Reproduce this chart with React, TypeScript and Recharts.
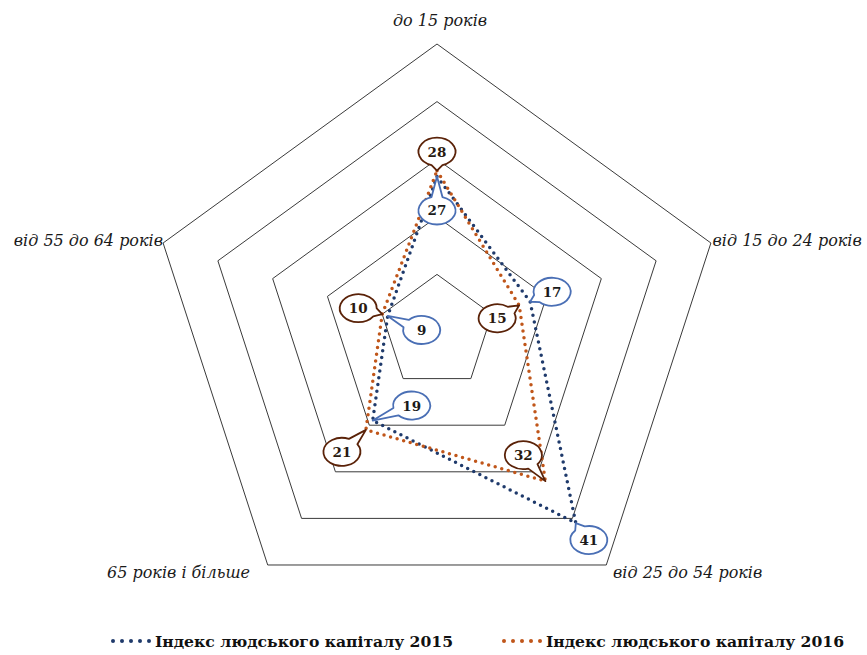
import React from 'react';
import { RadarChart, Radar, PolarGrid, PolarAngleAxis, PolarRadiusAxis, Legend } from 'recharts';

const categories = [
  'до 15 років',
  'від 15 до 24 років',
  'від 25 до 54 років',
  '65 років і більше',
  'від 55 до 64 років',
];
const index2015 = [27, 17, 41, 19, 9];
const index2016 = [28, 15, 32, 21, 10];
const seriesNames = ['Індекс людського капіталу 2015', 'Індекс людського капіталу 2016'];
const radiusTicks = [0, 10, 20, 30, 40, 50];

const data = categories.map((c, i) => ({ category: c, v2015: index2015[i], v2016: index2016[i] }));

// label placement (layout config)
const bubbleOffsets2015 = [[0, 34], [22, -10], [13, 17], [39, -15], [34, 14]];
const bubbleOffsets2016 = [[0, -19], [-22, 13], [-22, -26], [-24, 22], [-24, -6]];
const tickLayout = [
  { dx: 3, dy: -10, anchor: 'middle' },
  { dx: -6, dy: 5.5, anchor: 'start' },
  { dx: 2, dy: 6.5, anchor: 'start' },
  { dx: -13, dy: 6.5, anchor: 'end' },
  { dx: 7.5, dy: 5.5, anchor: 'end' },
];

const C2015 = '#1F3A6B';
const C2016 = '#C0561A';
const B2015 = '#4A6FB5';
const B2016 = '#5A2208';

function makeBubble(values: number[], offsets: number[][], border: string, textColor: string) {
  return (props: any) => {
    const { cx, cy, index } = props;
    if (cx == null || cy == null) return <g key={`e${index}`} />;
    const [dx, dy] = offsets[index];
    const bx = cx + dx;
    const by = cy + dy;
    const rx = 18.5;
    const ry = 14;
    const th = Math.atan2((cy - by) / ry, (cx - bx) / rx);
    const d = 0.3;
    const p1x = bx + rx * Math.cos(th + d);
    const p1y = by + ry * Math.sin(th + d);
    const p2x = bx + rx * Math.cos(th - d);
    const p2y = by + ry * Math.sin(th - d);
    const path = `M${p1x},${p1y} A${rx},${ry} 0 1 1 ${p2x},${p2y} L${cx},${cy} Z`;
    return (
      <g key={`b${index}`}>
        <path d={path} fill="#fff" stroke={border} strokeWidth={1.8} strokeLinejoin="round" />
        <text
          x={bx}
          y={by + 5}
          textAnchor="middle"
          fontFamily="'DejaVu Serif', serif"
          fontWeight="bold"
          fontSize={13.5}
          fill={textColor}
        >
          {values[index]}
        </text>
      </g>
    );
  };
}

const renderTick = (props: any) => {
  const { x, y, payload } = props;
  const i = payload.index ?? categories.indexOf(payload.value);
  const t = tickLayout[i] || { dx: 0, dy: 0, anchor: 'middle' };
  return (
    <text
      x={x + t.dx}
      y={y + t.dy}
      textAnchor={t.anchor as any}
      fontFamily="'DejaVu Serif', serif"
      fontStyle="italic"
      fontSize={16}
      fill="#1a1a1a"
    >
      {payload.value}
    </text>
  );
};

const LegendDots = ({ color }: { color: string }) => (
  <svg width={45} height={10} style={{ display: 'inline-block', verticalAlign: 'middle' }}>
    {[0, 1, 2, 3, 4].map((k) => (
      <circle key={k} cx={3 + k * 9} cy={5} r={2} fill={color} />
    ))}
  </svg>
);

const renderLegend = () => (
  <div style={{ position: 'relative', width: 867, height: 25 }}>
    <div style={{ position: 'absolute', left: 110, top: 1, whiteSpace: 'nowrap' }}>
      <LegendDots color={C2015} />
      <span style={{ fontFamily: "'DejaVu Serif', serif", fontWeight: 'bold', fontSize: 15.6, color: '#111', verticalAlign: 'middle' }}>
        {seriesNames[0]}
      </span>
    </div>
    <div style={{ position: 'absolute', left: 501, top: 1, whiteSpace: 'nowrap' }}>
      <LegendDots color={C2016} />
      <span style={{ fontFamily: "'DejaVu Serif', serif", fontWeight: 'bold', fontSize: 15.6, color: '#111', verticalAlign: 'middle' }}>
        {seriesNames[1]}
      </span>
    </div>
  </div>
);

export default function App() {
  return (
    <div style={{ position: 'absolute', left: 0, top: 0, width: 867, height: 655, background: '#fff' }}>
      <RadarChart width={867} height={655} data={data} cx={437} cy={332} outerRadius={288} margin={{ top: 0, right: 0, bottom: 0, left: 0 }}>
        <PolarGrid gridType="polygon" radialLines={false} stroke="#3a3a3a" strokeWidth={1} />
        <PolarAngleAxis dataKey="category" tick={renderTick} tickLine={false} axisLine={false} />
        <PolarRadiusAxis domain={[0, 50]} ticks={radiusTicks as any} tickCount={6} tick={false} axisLine={false} />
        <Radar
          name={seriesNames[0]}
          dataKey="v2015"
          stroke={C2015}
          strokeWidth={3.5}
          strokeDasharray="0 6.8"
          strokeLinecap="round"
          fill="none"
          fillOpacity={0}
          dot={false}
          isAnimationActive={false}
        />
        <Radar
          name={seriesNames[1]}
          dataKey="v2016"
          stroke={C2016}
          strokeWidth={3.5}
          strokeDasharray="0 6.8"
          strokeLinecap="round"
          fill="none"
          fillOpacity={0}
          dot={false}
          isAnimationActive={false}
        />
        <Radar
          dataKey="v2015"
          stroke="none"
          fill="none"
          legendType="none"
          dot={makeBubble(index2015, bubbleOffsets2015, B2015, '#1a1a1a')}
          isAnimationActive={false}
        />
        <Radar
          dataKey="v2016"
          stroke="none"
          fill="none"
          legendType="none"
          dot={makeBubble(index2016, bubbleOffsets2016, B2016, '#2a1a10')}
          isAnimationActive={false}
        />
        <Legend
          content={renderLegend}
          wrapperStyle={{ position: 'absolute', left: 0, top: 630, width: 867, height: 25 }}
        />
      </RadarChart>
    </div>
  );
}
